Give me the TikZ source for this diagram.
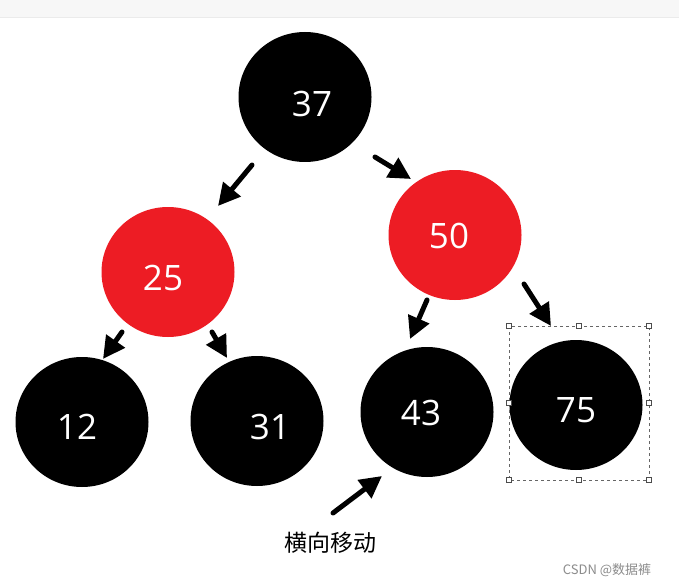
\documentclass[tikz,border=0pt]{standalone}
\usepackage{fontspec}
\setmainfont{Open Sans}
\newfontfamily\cjk{Noto Sans CJK SC}
\usetikzlibrary{arrows.meta,shapes.geometric}
\definecolor{rbred}{HTML}{ED1C24}
\definecolor{topbar}{HTML}{F7F7F7}
\tikzset{
  rbnode/.style={ellipse, minimum width=133pt, minimum height=130pt, inner sep=0pt},
  blacknode/.style={rbnode, fill=black},
  rednode/.style={rbnode, fill=rbred},
  numtext/.style={text=white, inner sep=0pt, font=\fontsize{35}{35}\selectfont},
  fatarrow/.style={line width=5pt, -{Triangle[length=22pt,width=22pt]}, line cap=round},
  handle/.style={draw=black!70, fill=white, line width=0.6pt, minimum size=5pt, inner sep=0pt},
}
\begin{document}
\begin{tikzpicture}[x=1pt,y=-1pt]
\useasboundingbox (0,0) rectangle (679,588);
\fill[white] (0,0) rectangle (679,588);
\fill[topbar] (0,0) rectangle (679,17);
\draw[black!8, line width=0.8pt] (0,17.5) -- (679,17.5);

\node[blacknode] (n37) at (305,97) {};
\node[rednode] (n25) at (168,272) {};
\node[rednode] (n50) at (455,235) {};
\node[blacknode] (n12) at (82,422) {};
\node[blacknode] (n31) at (257,421) {};
\node[blacknode] (n43) at (427,412) {};
\node[blacknode] (n75) at (576,405) {};

\node[numtext] (t37) at (312,104) {37};
\node[numtext] (t25) at (163,278) {25};
\node[numtext] (t50) at (449,236) {50};
\node[numtext] (t12) at (77,427) {12};
\node[numtext] (t31) at (270,427) {31};
\node[numtext] (t43) at (421,413) {43};
\node[numtext] (t75) at (576,410) {75};

% selection box
\draw[dashed, black!60, line width=0.6pt] (509,326) rectangle (649,480);
\foreach \p [count=\i] in {(509,326),(579,326),(649,326),(509,403),(649,403),(509,480),(579,480),(649,480)}
  \node[handle] (h\i) at \p {};

% arrow end points
\coordinate (a1s) at (252,165); \coordinate (a1e) at (218,206);
\coordinate (a2s) at (375,157); \coordinate (a2e) at (411,179);
\coordinate (a3s) at (122,332); \coordinate (a3e) at (103,359);
\coordinate (a4s) at (212,332); \coordinate (a4e) at (227,358);
\coordinate (a5s) at (427,300); \coordinate (a5e) at (410,339);
\coordinate (a6s) at (524,284); \coordinate (a6e) at (551,326);
\coordinate (a7s) at (333,513); \coordinate (a7e) at (382,476);

\draw[fatarrow] (a1s) -- (a1e);
\draw[fatarrow] (a2s) -- (a2e);
\draw[fatarrow] (a3s) -- (a3e);
\draw[fatarrow] (a4s) -- (a4e);
\draw[fatarrow] (a5s) -- (a5e);
\draw[fatarrow] (a6s) -- (a6e);
\draw[fatarrow] (a7s) -- (a7e);

\node[font=\cjk\fontsize{23}{23}\selectfont] (lbl) at (330,543) {横向移动};
\node[font=\cjk\fontsize{13}{13}\selectfont, text=black!45] (wm) at (607,570) {CSDN @数据裤};
\end{tikzpicture}
\end{document}
